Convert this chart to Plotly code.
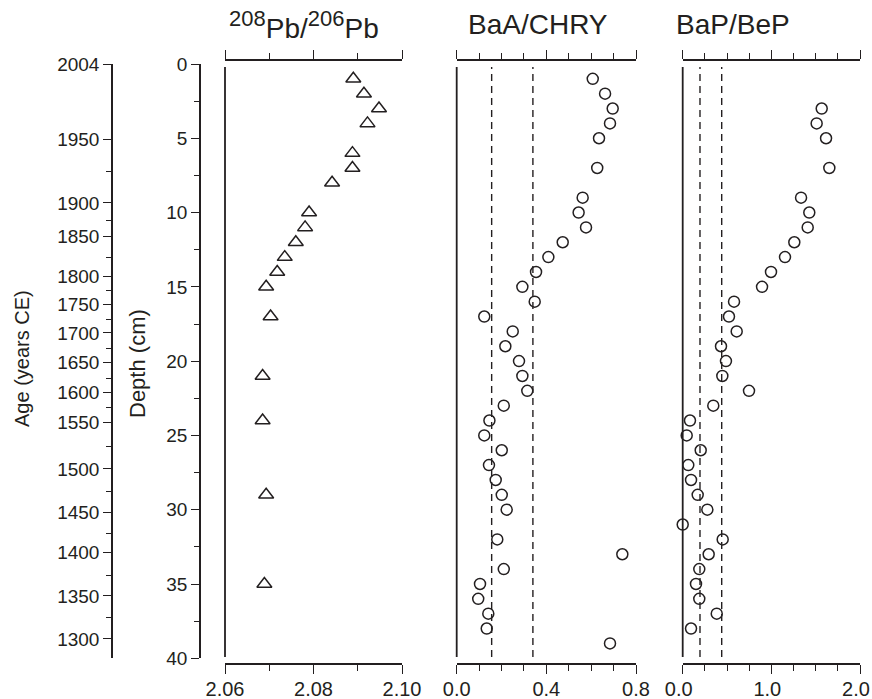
import plotly.graph_objects as go

# ---------------- data ----------------
pb_depth = [1, 2, 3, 4, 6, 7, 8, 10, 11, 12, 13, 14, 15, 17, 21, 24, 29, 35]
pb_ratio = [2.0890, 2.0914, 2.0948, 2.0922, 2.0888, 2.0888, 2.0842, 2.0790, 2.0781,
            2.0760, 2.0735, 2.0718, 2.0693, 2.0703, 2.0685, 2.0685, 2.0693, 2.0689]

baa_depth = [1, 2, 3, 4, 5, 7, 9, 10, 11, 12, 13, 14, 15, 16, 17, 18, 19, 20, 21, 22,
             23, 24, 25, 26, 27, 28, 29, 30, 32, 33, 34, 35, 36, 37, 38, 39]
baa_ratio = [0.607, 0.662, 0.696, 0.684, 0.635, 0.627, 0.562, 0.544, 0.577, 0.473,
             0.409, 0.354, 0.293, 0.348, 0.123, 0.250, 0.217, 0.278, 0.293, 0.315,
             0.210, 0.146, 0.123, 0.201, 0.144, 0.174, 0.201, 0.223, 0.181, 0.739,
             0.210, 0.104, 0.096, 0.141, 0.134, 0.684]

bap_depth = [3, 4, 5, 7, 9, 10, 11, 12, 13, 14, 15, 16, 17, 18, 19, 20, 21, 22, 23,
             24, 25, 26, 27, 28, 29, 30, 31, 32, 33, 34, 35, 36, 37, 38]
bap_ratio = [1.568, 1.511, 1.617, 1.654, 1.335, 1.428, 1.410, 1.259, 1.154, 0.996,
             0.895, 0.579, 0.522, 0.609, 0.432, 0.488, 0.447, 0.748, 0.345, 0.082,
             0.045, 0.203, 0.063, 0.094, 0.169, 0.278, 0.0, 0.451, 0.293, 0.187,
             0.150, 0.187, 0.384, 0.094]

baa_ref = [0.156, 0.34]
bap_ref = [0.195, 0.44]

depth_ticks = [0, 5, 10, 15, 20, 25, 30, 35, 40]

age_labels = ["2004", "1950", "1900", "1850", "1800", "1750", "1700", "1650",
              "1600", "1550", "1500", "1450", "1400", "1350", "1300"]
age_label_depths = [0, 5.05, 9.35, 11.6, 14.3, 16.2, 18.1, 20.1, 22.1, 24.1,
                    27.25, 30.2, 32.9, 35.8, 38.7]
age_minor_depths = [7.25, 10.5, 13.0, 15.25, 17.2, 19.15, 21.17, 23.1, 25.72,
                    28.8, 31.6, 34.4, 37.26]

pb_ticks = [2.06, 2.08, 2.10]
pb_ticktext = ["2.06", "2.08", "2.10"]
baa_ticks = [0.0, 0.4, 0.8]
baa_ticktext = ["0.0", "0.4", "0.8"]
bap_ticks = [0.0, 1.0, 2.0]
bap_ticktext = ["0.0", "1.0", "2.0"]

# ---------------- layout geometry ----------------
W, H = 872, 699
INK = "#231f20"
FONT = "Liberation Sans, Arial, Helvetica, sans-serif"


def px_x(p):
    return p / W


def px_y(p):
    return 1 - p / H


main_dom = [px_y(663), px_y(61)]
axis_dom = [px_y(658.3), px_y(64)]
yr_main = [40.32, -0.2]

fig = go.Figure()

marker_line = dict(color=INK, width=1.5)
fig.add_trace(go.Scatter(x=pb_ratio, y=pb_depth, mode="markers", xaxis="x", yaxis="y",
                         marker=dict(symbol="triangle-up-open", size=13, color=INK, line=marker_line),
                         cliponaxis=False, showlegend=False))
fig.add_trace(go.Scatter(x=baa_ratio, y=baa_depth, mode="markers", xaxis="x2", yaxis="y",
                         marker=dict(symbol="circle-open", size=11, color=INK, line=marker_line),
                         cliponaxis=False, showlegend=False))
fig.add_trace(go.Scatter(x=bap_ratio, y=bap_depth, mode="markers", xaxis="x3", yaxis="y",
                         marker=dict(symbol="circle-open", size=11, color=INK, line=marker_line),
                         cliponaxis=False, showlegend=False))

# dummy traces to activate top axes and free left axes
for xa in ["x4", "x5", "x6"]:
    fig.add_trace(go.Scatter(x=[None], y=[None], xaxis=xa, yaxis="y", showlegend=False,
                             hoverinfo="skip"))
for ya in ["y4", "y5"]:
    fig.add_trace(go.Scatter(x=[None], y=[None], xaxis="x", yaxis=ya, showlegend=False,
                             hoverinfo="skip"))

tickfont = dict(family=FONT, size=20, color=INK)


def bottom_axis(dom, rng, tv, tt, minor_dtick, shift=0):
    return dict(domain=dom, range=rng, anchor="y", side="bottom",
                tickmode="array", tickvals=tv, ticktext=tt, ticks="outside",
                ticklen=9, tickwidth=1.3, tickcolor=INK, showline=True, linewidth=1.5,
                linecolor=INK, showgrid=False, zeroline=False, tickfont=tickfont,
                ticklabelstandoff=-2, ticklabeloverflow="allow", ticklabelshift=shift,
                minor=dict(dtick=minor_dtick, tick0=rng[0], ticks="outside", ticklen=6,
                           tickwidth=1.3, tickcolor=INK, showgrid=False),
                automargin=False, fixedrange=True)


def top_axis(base, rng, tv, minor_dtick):
    return dict(overlaying=base, matches=base, range=rng, anchor="y", side="top",
                tickmode="array", tickvals=tv, ticks="outside", ticklen=9, tickwidth=1.3,
                tickcolor=INK, showticklabels=False, showline=True, linewidth=1.5,
                linecolor=INK, showgrid=False, zeroline=False,
                minor=dict(dtick=minor_dtick, tick0=rng[0], ticks="outside", ticklen=6,
                           tickwidth=1.3, tickcolor=INK, showgrid=False),
                automargin=False, fixedrange=True)


d1 = [px_x(225), px_x(402)]
d2 = [px_x(456.7), px_x(636)]
d3 = [px_x(682.7), px_x(860)]

fig.update_layout(
    width=W, height=H,
    margin=dict(l=0, r=0, t=0, b=0, autoexpand=False),
    paper_bgcolor="white", plot_bgcolor="rgba(0,0,0,0)",
    font=dict(family=FONT, color=INK),
    xaxis=bottom_axis(d1, [2.06, 2.10], pb_ticks, pb_ticktext, 0.01),
    xaxis2=bottom_axis(d2, [0.0, 0.8], baa_ticks, baa_ticktext, 0.1),
    xaxis3=bottom_axis(d3, [0.0, 2.0], bap_ticks, bap_ticktext, 0.25, shift=-4),
    xaxis4=top_axis("x", [2.06, 2.10], pb_ticks, 0.01),
    xaxis5=top_axis("x2", [0.0, 0.8], baa_ticks, 0.1),
    xaxis6=top_axis("x3", [0.0, 2.0], bap_ticks, 0.25),
    yaxis=dict(domain=main_dom, range=yr_main, visible=False, fixedrange=True),
    yaxis4=dict(domain=axis_dom, range=[40, 0], anchor="free", position=px_x(200),
                side="left", tickmode="array", tickvals=depth_ticks,
                ticks="outside", ticklen=8, tickwidth=1.3, tickcolor=INK,
                showline=True, linewidth=1.5, linecolor=INK, showgrid=False,
                zeroline=False, tickfont=dict(family=FONT, size=19, color=INK),
                minor=dict(dtick=2.5, tick0=0, ticks="outside", ticklen=5, tickwidth=1.3,
                           tickcolor=INK, showgrid=False),
                automargin=False, fixedrange=True),
    yaxis5=dict(domain=axis_dom, range=[40, 0], anchor="free", position=px_x(112),
                side="left", tickmode="array", tickvals=age_label_depths,
                ticktext=age_labels,
                ticks="outside", ticklen=8, tickwidth=1.3, tickcolor=INK,
                showline=True, linewidth=1.5, linecolor=INK, showgrid=False,
                zeroline=False, tickfont=dict(family=FONT, size=19, color=INK),
                minor=dict(tickmode="array", tickvals=age_minor_depths, ticks="outside",
                           ticklen=5, tickwidth=1.3, tickcolor=INK, showgrid=False),
                automargin=False, fixedrange=True),
)

# panel left border lines
for xr in ["x", "x2", "x3"]:
    fig.add_shape(type="line", xref=xr + " domain", yref="y domain", x0=0, x1=0,
                  y0=0.01, y1=0.99, line=dict(color=INK, width=1.8))

# reference dashed lines
for xr, refs in [("x2", baa_ref), ("x3", bap_ref)]:
    for v in refs:
        fig.add_shape(type="line", xref=xr, yref="y domain", x0=v, x1=v,
                      y0=0.01, y1=0.99, line=dict(color=INK, width=1.4, dash="7px,5px"))

# titles
title_font = dict(family=FONT, size=28, color=INK)
pb_title = ("<sup><span style='font-size:22px'>208</span></sup>Pb/"
            "<sup><span style='font-size:22px'>206</span></sup>Pb")
for txt, xc in [(pb_title, 304), ("BaA/CHRY", 537.5), ("BaP/BeP", 733)]:
    fig.add_annotation(text=txt, x=px_x(xc), y=px_y(25), xref="paper", yref="paper",
                       xanchor="center", yanchor="middle", showarrow=False, font=title_font)

fig.add_annotation(text="Depth (cm)", x=px_x(137), y=px_y(364), xref="paper", yref="paper",
                   xanchor="center", yanchor="middle", textangle=-90, showarrow=False,
                   font=dict(family=FONT, size=22, color=INK))
fig.add_annotation(text="Age (years CE)", x=px_x(22), y=px_y(359), xref="paper", yref="paper",
                   xanchor="center", yanchor="middle", textangle=-90, showarrow=False,
                   font=dict(family=FONT, size=20, color=INK))

fig.write_html("out.html", post_script="document.body.style.margin='0px';",
               config={"displayModeBar": False})
